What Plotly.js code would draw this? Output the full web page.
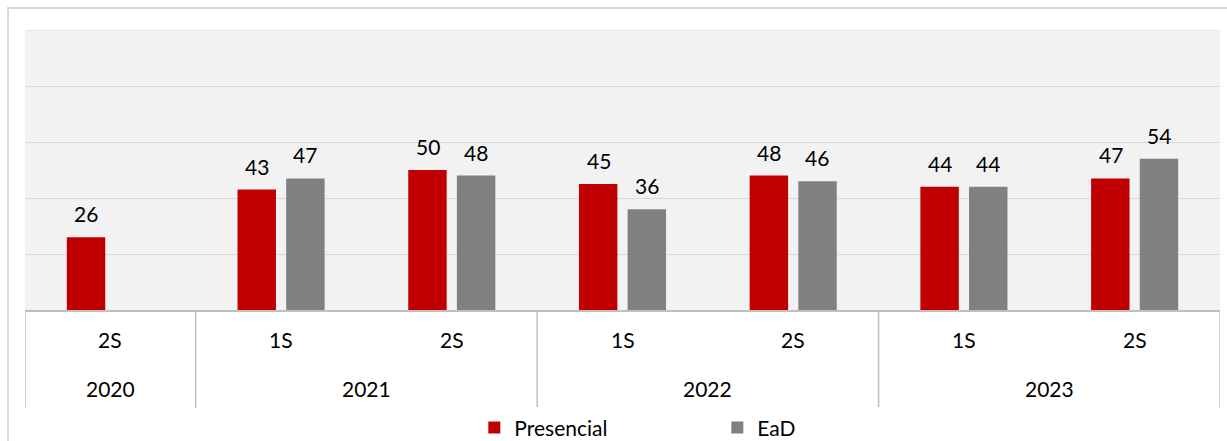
<!DOCTYPE html>
<html>
<head>
<meta charset="utf-8">
<script src="https://cdn.plot.ly/plotly-3.0.1.min.js"></script>
<style>
  html, body { margin: 0; padding: 0; background: #fff; overflow: hidden; }
  #frame { position: absolute; left: 7px; top: 7px; width: 1240px; height: 450px;
           border-left: 2px solid #d9d9d9; border-top: 2px solid #d9d9d9; pointer-events: none; }
  #chart { position: absolute; left: 0; top: 0; width: 1227px; height: 441px; }
</style>
</head>
<body>
<div id="chart"></div>
<div id="frame"></div>
<script>
const periodYear = ['2020', '2021', '2021', '2022', '2022', '2023', '2023'];
const periodSem  = ['2S', '1S', '2S', '1S', '2S', '1S', '2S'];
const presencial = [26, 43, 50, 45, 48, 44, 47];
const ead        = [null, 47, 48, 36, 46, 44, 54];
const seriesNames = ['Presencial', 'EaD'];
const seriesColors = ['#c00000', '#808080'];

const FONT = 'Lato, "Liberation Sans", sans-serif';
const FS = 21;
const keys = periodYear.map((y, i) => y + ' ' + periodSem[i]);
const seriesValues = [presencial, ead];

const traces = seriesValues.map((vals, s) => ({
  type: 'bar',
  name: seriesNames[s],
  x: keys,
  y: vals,
  marker: { color: seriesColors[s] },
  hoverinfo: 'skip'
}));

const annotations = [];
// value labels
const offsets = [-24, 24];
seriesValues.forEach((vals, s) => {
  vals.forEach((v, i) => {
    if (v === null) return;
    annotations.push({
      x: keys[i], y: v, xref: 'x', yref: 'y',
      text: String(v), showarrow: false,
      xanchor: 'center', yanchor: 'bottom',
      xshift: offsets[s], yshift: 9,
      font: { family: FONT, size: FS, color: '#000' }
    });
  });
});
// semester labels
periodSem.forEach((s, i) => {
  annotations.push({
    x: i, y: -0.107, xref: 'x', yref: 'paper',
    text: s, showarrow: false, xanchor: 'center', yanchor: 'middle',
    font: { family: FONT, size: FS, color: '#000' }
  });
});
// year labels and dividers
const shapes = [];
const years = [];
periodYear.forEach((y, i) => {
  if (!years.length || years[years.length - 1].y !== y) years.push({ y: y, start: i, end: i });
  else years[years.length - 1].end = i;
});
years.forEach((g) => {
  annotations.push({
    x: (g.start + g.end) / 2, y: -0.279, xref: 'x', yref: 'paper',
    text: g.y, showarrow: false, xanchor: 'center', yanchor: 'middle',
    font: { family: FONT, size: FS, color: '#000' }
  });
});
const bounds = [-0.5].concat(years.map(g => g.end + 0.5));
bounds.forEach((b) => {
  shapes.push({
    type: 'line', xref: 'x', yref: 'paper',
    x0: b, x1: b, y0: 0, y1: -0.35,
    line: { color: '#bfbfbf', width: 1.5 }
  });
});
// top gridline at range end
shapes.push({
  type: 'line', xref: 'paper', yref: 'y',
  x0: 0, x1: 1, y0: 100, y1: 100,
  line: { color: '#d9d9d9', width: 1 }
});

const layout = {
  width: 1227, height: 441,
  margin: { l: 25, r: 7, t: 30, b: 131, autoexpand: false },
  paper_bgcolor: '#ffffff',
  plot_bgcolor: '#f2f2f2',
  barmode: 'group',
  bargap: 0.43,
  bargroupgap: 0.21,
  showlegend: true,
  legend: {
    orientation: 'h', x: 0.376, xanchor: 'left', y: -0.348, yanchor: 'top',
    font: { family: FONT, size: FS, color: '#000' },
    entrywidth: 198, entrywidthmode: 'pixels',
    traceorder: 'normal'
  },
  xaxis: {
    type: 'category',
    range: [-0.5, 6.5],
    showticklabels: false,
    showgrid: false,
    zeroline: false,
    showline: true,
    linecolor: '#bfbfbf',
    linewidth: 1.5,
    ticks: '',
    fixedrange: true
  },
  yaxis: {
    range: [0, 100],
    dtick: 20,
    showticklabels: false,
    showgrid: true,
    gridcolor: '#d9d9d9',
    gridwidth: 1,
    zeroline: false,
    showline: false,
    ticks: '',
    fixedrange: true
  },
  annotations: annotations,
  shapes: shapes,
  font: { family: FONT, size: FS, color: '#000' }
};

Plotly.newPlot('chart', traces, layout, { displayModeBar: false, staticPlot: true });
</script>
</body>
</html>
